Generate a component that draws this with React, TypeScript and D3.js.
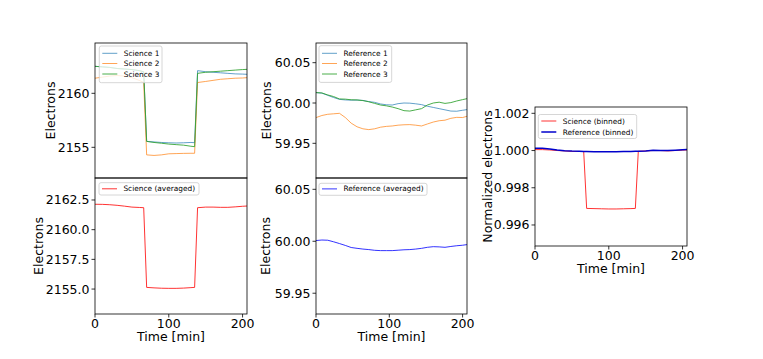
import React from 'react';
import * as d3 from 'd3';

// time grids [min]
const sciTime = [0, 10, 20, 30, 40, 50, 60, 66, 70, 80, 90, 100, 110, 120, 130, 135, 139, 150, 160, 170, 180, 190, 200, 206];
const science1 = [2162.5, 2162.45, 2162.4, 2162.3, 2162.25, 2162.2, 2162.1, 2162.0, 2155.55, 2155.5, 2155.45, 2155.42, 2155.4, 2155.42, 2155.45, 2155.43, 2162.1, 2162.0, 2161.95, 2161.9, 2161.85, 2161.8, 2161.78, 2161.76];
const science2 = [2161.4, 2161.5, 2161.6, 2161.65, 2161.6, 2161.45, 2161.2, 2161.0, 2154.3, 2154.25, 2154.3, 2154.4, 2154.42, 2154.44, 2154.45, 2154.45, 2161.0, 2161.1, 2161.2, 2161.3, 2161.35, 2161.4, 2161.42, 2161.45];
const science3 = [2162.5, 2162.45, 2162.4, 2162.3, 2162.25, 2162.2, 2162.1, 2162.0, 2155.55, 2155.45, 2155.38, 2155.3, 2155.25, 2155.2, 2155.1, 2155.06, 2161.85, 2161.95, 2162.0, 2162.05, 2162.1, 2162.15, 2162.2, 2162.22];
const scienceAvg = [2162.14, 2162.13, 2162.1, 2162.05, 2161.98, 2161.9, 2161.87, 2161.85, 2155.14, 2155.1, 2155.07, 2155.06, 2155.06, 2155.08, 2155.12, 2155.14, 2161.85, 2161.9, 2161.9, 2161.88, 2161.88, 2161.92, 2161.97, 2161.99];

const refTime = [0, 8, 16, 24, 32, 40, 48, 56, 64, 72, 80, 88, 96, 104, 112, 120, 128, 136, 144, 152, 160, 168, 176, 184, 192, 200, 206];
const reference1 = [60.0129, 60.0122, 60.0095, 60.0068, 60.0045, 60.0038, 60.0035, 60.0036, 60.0032, 60.0018, 60.0008, 59.9988, 59.9978, 59.9975, 59.9992, 60.0, 59.9998, 59.999, 59.998, 59.996, 59.9945, 59.993, 59.9915, 59.99, 59.9898, 59.991, 59.9918];
const reference2 = [59.9819, 59.9845, 59.986, 59.9866, 59.9872, 59.982, 59.975, 59.9705, 59.968, 59.967, 59.968, 59.97, 59.971, 59.9715, 59.9725, 59.973, 59.9732, 59.9725, 59.9715, 59.974, 59.9764, 59.978, 59.9787, 59.981, 59.9822, 59.982, 59.9835];
const reference3 = [60.0129, 60.0125, 60.01, 60.008, 60.005, 60.0048, 60.004, 60.0038, 60.003, 60.0015, 59.9995, 59.9975, 59.9965, 59.995, 59.993, 59.9905, 59.99, 59.9915, 59.993, 59.9975, 60.0, 60.001, 59.9995, 60.0005, 60.0025, 60.0042, 60.0054];
const referenceAvg = [60.0007, 60.0012, 60.001, 59.9995, 59.9978, 59.996, 59.994, 59.9932, 59.9925, 59.992, 59.9913, 59.991, 59.991, 59.991, 59.9914, 59.9918, 59.992, 59.9925, 59.9932, 59.9942, 59.9948, 59.9946, 59.9942, 59.995, 59.9957, 59.9962, 59.9968];

const binTime = [0, 10, 20, 30, 40, 50, 60, 66, 70, 80, 90, 100, 110, 120, 130, 136, 140, 150, 160, 170, 180, 190, 200, 206];
const scienceBinned = [1.00005, 1.00005, 1.00003, 1.0, 0.99998, 0.99995, 0.99995, 0.99995, 0.99689, 0.99688, 0.99687, 0.99686, 0.99686, 0.99687, 0.99688, 0.99689, 0.99996, 0.99998, 1.0, 1.0, 0.99998, 1.0, 1.00002, 1.00003];
const referenceBinned = [1.00012, 1.00012, 1.00008, 1.00003, 0.99999, 0.99997, 0.99996, 0.99995, 0.99995, 0.99994, 0.99993, 0.99993, 0.99994, 0.99995, 0.99995, 0.99996, 0.99996, 0.99998, 1.00001, 1.0, 1.0, 1.00002, 1.00004, 1.00005];

const xTicks = [0, 100, 200];
const FONT = 'DejaVu Sans, sans-serif';

type Series = { t: number[]; v: number[]; color: string; label: string; width?: number; opacity?: number };

type PanelProps = {
  id: string;
  x0: number; x1: number; y0: number; y1: number;
  yDomain: [number, number];
  yTicks: number[];
  fmt: string;
  series: Series[];
  showX: boolean;
  yLabel: string;
  yLabelX: number;
  legend: { x: number; y: number; w: number; h: number; rows: number[] };
};

const Panel = ({ id, x0, x1, y0, y1, yDomain, yTicks, fmt, series, showX, yLabel, yLabelX, legend }: PanelProps) => {
  const x = d3.scaleLinear().domain([0, 206]).range([x0, x1]);
  const y = d3.scaleLinear().domain(yDomain).range([y1, y0]);
  const f = d3.format(fmt);
  const line = d3.line<[number, number]>().x(d => x(d[0])).y(d => y(d[1]));

  return (
    <g>
      <defs>
        <clipPath id={id}>
          <rect x={x0} y={y0} width={x1 - x0} height={y1 - y0} />
        </clipPath>
      </defs>
      <g clipPath={`url(#${id})`}>
        {series.map(s => (
          <path key={s.label} d={line(s.t.map((t, i) => [t, s.v[i]]))!} fill="none"
            stroke={s.color} strokeWidth={s.width ?? 1} strokeOpacity={s.opacity ?? 1} />
        ))}
      </g>
      <rect x={x0} y={y0} width={x1 - x0} height={y1 - y0} fill="none" stroke="#000" strokeWidth={0.8} />
      {yTicks.map(t => (
        <g key={t}>
          <line x1={x0 - 3.5} x2={x0} y1={y(t)} y2={y(t)} stroke="#000" strokeWidth={0.8} />
          <text x={x0 - 5.5} y={y(t)} dy="0.36em" textAnchor="end" fontSize={12.5} fontFamily={FONT}>{f(t)}</text>
        </g>
      ))}
      {showX && xTicks.map(t => (
        <g key={t}>
          <line x1={x(t)} x2={x(t)} y1={y1} y2={y1 + 3.5} stroke="#000" strokeWidth={0.8} />
          <text x={x(t)} y={y1 + 13.5} textAnchor="middle" fontSize={12.5} fontFamily={FONT}>{t}</text>
        </g>
      ))}
      {showX && (
        <text x={(x0 + x1) / 2} y={y1 + 27} textAnchor="middle" fontSize={12.5} fontFamily={FONT}>Time [min]</text>
      )}
      <text transform={`translate(${yLabelX},${(y0 + y1) / 2}) rotate(-90)`} dy="0.36em" textAnchor="middle"
        fontSize={12.5} fontFamily={FONT}>{yLabel}</text>
      <rect x={legend.x} y={legend.y} width={legend.w} height={legend.h} rx={2} fill="#fff" fillOpacity={0.8}
        stroke="#cccccc" strokeWidth={0.8} />
      {series.map((s, i) => (
        <g key={s.label}>
          <line x1={legend.x + 3} x2={legend.x + 18} y1={legend.rows[i]} y2={legend.rows[i]}
            stroke={s.color} strokeWidth={s.width ?? 1} strokeOpacity={s.opacity ?? 1} />
          <text x={legend.x + 24.4} y={legend.rows[i]} dy="0.35em" fontSize={7.4} fontFamily={FONT}>{s.label}</text>
        </g>
      ))}
    </g>
  );
};

const App = () => {
  return (
    <svg width={763} height={359} style={{ position: 'absolute', left: 0, top: 0, background: '#fff' }}>
      <Panel id="c1" x0={95} x1={247} y0={43} y1={178} yDomain={[2152.16, 2164.66]} yTicks={[2155, 2160]} fmt="d"
        showX={false} yLabel="Electrons" yLabelX={50}
        legend={{ x: 99.3, y: 46, w: 62.7, h: 36.7, rows: [53.3, 63.5, 74] }}
        series={[
          { t: sciTime, v: science1, color: '#1f77b4', label: 'Science 1', opacity: 0.7 },
          { t: sciTime, v: science2, color: '#ff7f0e', label: 'Science 2', opacity: 0.7 },
          { t: sciTime, v: science3, color: '#2ca02c', label: 'Science 3', opacity: 0.85 },
        ]} />
      <Panel id="c2" x0={95} x1={247} y0={178} y1={314} yDomain={[2152.9, 2164.35]} yTicks={[2155, 2157.5, 2160, 2162.5]} fmt=".1f"
        showX={true} yLabel="Electrons" yLabelX={38}
        legend={{ x: 99, y: 182.7, w: 100, h: 12.3, rows: [188.8] }}
        series={[{ t: sciTime, v: scienceAvg, color: '#ff0000', label: 'Science (averaged)', opacity: 0.8 }]} />
      <Panel id="c3" x0={316} x1={467} y0={43} y1={178} yDomain={[59.907, 60.0744]} yTicks={[59.95, 60.0, 60.05]} fmt=".2f"
        showX={false} yLabel="Electrons" yLabelX={266}
        legend={{ x: 319, y: 45.7, w: 72.7, h: 36.7, rows: [53.3, 63.5, 74] }}
        series={[
          { t: refTime, v: reference1, color: '#1f77b4', label: 'Reference 1', opacity: 0.7 },
          { t: refTime, v: reference2, color: '#ff7f0e', label: 'Reference 2', opacity: 0.7 },
          { t: refTime, v: reference3, color: '#2ca02c', label: 'Reference 3', opacity: 0.85 },
        ]} />
      <Panel id="c4" x0={316} x1={467} y0={178} y1={314} yDomain={[59.93, 60.0609]} yTicks={[59.95, 60.0, 60.05]} fmt=".2f"
        showX={true} yLabel="Electrons" yLabelX={265}
        legend={{ x: 319, y: 183.3, w: 108, h: 12, rows: [188.9] }}
        series={[{ t: refTime, v: referenceAvg, color: '#0000ff', label: 'Reference (averaged)', opacity: 0.8 }]} />
      <Panel id="c5" x0={535} x1={687} y0={107} y1={246} yDomain={[0.99487, 1.00234]} yTicks={[0.996, 0.998, 1.0, 1.002]} fmt=".3f"
        showX={true} yLabel="Normalized electrons" yLabelX={487}
        legend={{ x: 538.3, y: 114.5, w: 98.4, h: 24, rows: [121, 132] }}
        series={[
          { t: binTime, v: scienceBinned, color: '#ff0000', label: 'Science (binned)', opacity: 0.8 },
          { t: binTime, v: referenceBinned, color: '#0000cc', label: 'Reference (binned)', width: 1.5 },
        ]} />
    </svg>
  );
};

export default App;
